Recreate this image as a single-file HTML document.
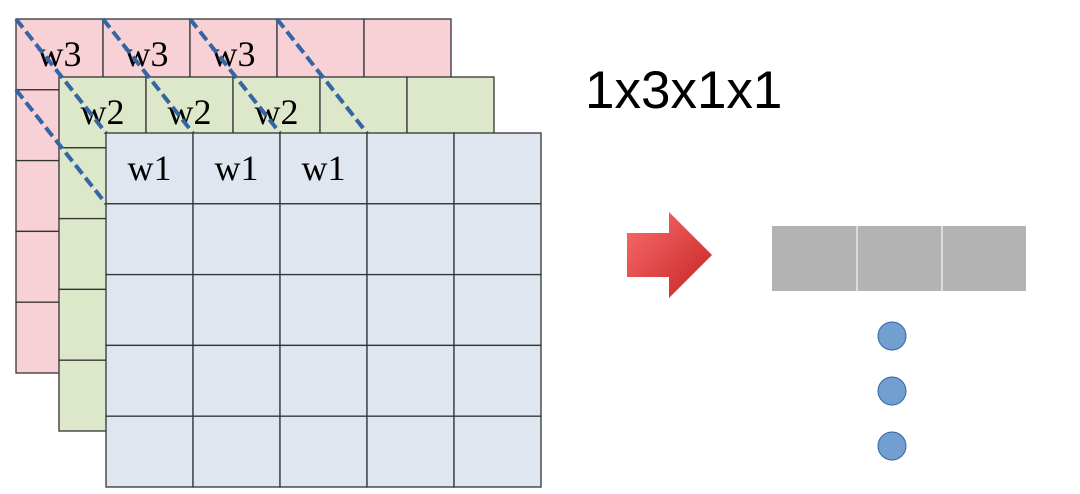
<!DOCTYPE html>
<html><head><meta charset="utf-8"><style>
html,body{margin:0;padding:0;background:#fff;width:1080px;height:494px;overflow:hidden}
svg{display:block}
</style></head><body>
<svg width="1080" height="494" viewBox="0 0 1080 494" xmlns="http://www.w3.org/2000/svg">
<defs>
<linearGradient id="ag" x1="0" y1="0" x2="1" y2="1">
<stop offset="0" stop-color="#fb6e6e"/><stop offset="1" stop-color="#c52222"/>
</linearGradient>
</defs>
<g id="layers"></g>
<text x="585" y="108" font-family="Liberation Sans, sans-serif" font-size="53" fill="#000">1x3x1x1</text>
<path d="M627 233 H669 V212 L712 255 L669 298 V277 H627 Z" fill="url(#ag)"/>
<g>
<rect x="772" y="226" width="254" height="65" fill="#b3b3b3"/>
<line x1="857" y1="226" x2="857" y2="291" stroke="#e8e8e8" stroke-width="1.5"/>
<line x1="942" y1="226" x2="942" y2="291" stroke="#e8e8e8" stroke-width="1.5"/>
</g>
<circle cx="892" cy="336" r="14" fill="#729fcf" stroke="#3465a4" stroke-width="1"/>
<circle cx="892" cy="391" r="14" fill="#729fcf" stroke="#3465a4" stroke-width="1"/>
<circle cx="892" cy="446" r="14" fill="#729fcf" stroke="#3465a4" stroke-width="1"/>
</svg>
<script>
const NS='http://www.w3.org/2000/svg';
const g=document.getElementById('layers');
const layers=[
 {x:16,y:19,fill:'#f7d1d6',label:'w3',name:'channel-3-grid'},
 {x:59,y:77,fill:'#dde7c9',label:'w2',name:'channel-2-grid'},
 {x:106,y:133,fill:'#dfe6f0',label:'w1',name:'channel-1-grid'}
];
const cw=87,ch=70.8;
function mk(t,a){const e=document.createElementNS(NS,t);for(const k in a)e.setAttribute(k,a[k]);return e;}
function drawGrid(L){
 const grp=mk('g',{});
 
 
 for(let r=0;r<5;r++)for(let c=0;c<5;c++){
  const rc=mk('rect',{x:L.x+c*cw,y:L.y+r*ch,width:cw,height:ch,fill:L.fill,stroke:'#333','stroke-width':1.3});
  
  
  grp.appendChild(rc);
 }
 for(let c=0;c<3;c++){
  const t=mk('text',{x:L.x+c*cw+cw/2,y:L.y+47,'text-anchor':'middle','font-family':'Liberation Serif, serif','font-size':36,fill:'#000'});
  t.textContent=L.label;
  
  
  grp.appendChild(t);
 }
 g.appendChild(grp);
}
drawGrid(layers[0]);drawGrid(layers[1]);
const P=layers[0],B=layers[2];
const lines=[[0,0],[1,0],[2,0],[3,0],[0,1]];
lines.forEach(([c,r])=>{
 const l=mk('line',{x1:P.x+c*cw,y1:P.y+r*ch,x2:B.x+c*cw,y2:B.y+r*ch,stroke:'#3465a4','stroke-width':4,'stroke-dasharray':'11 5'});
 
 
 g.appendChild(l);
});
drawGrid(layers[2]);
</script>
</body></html>
